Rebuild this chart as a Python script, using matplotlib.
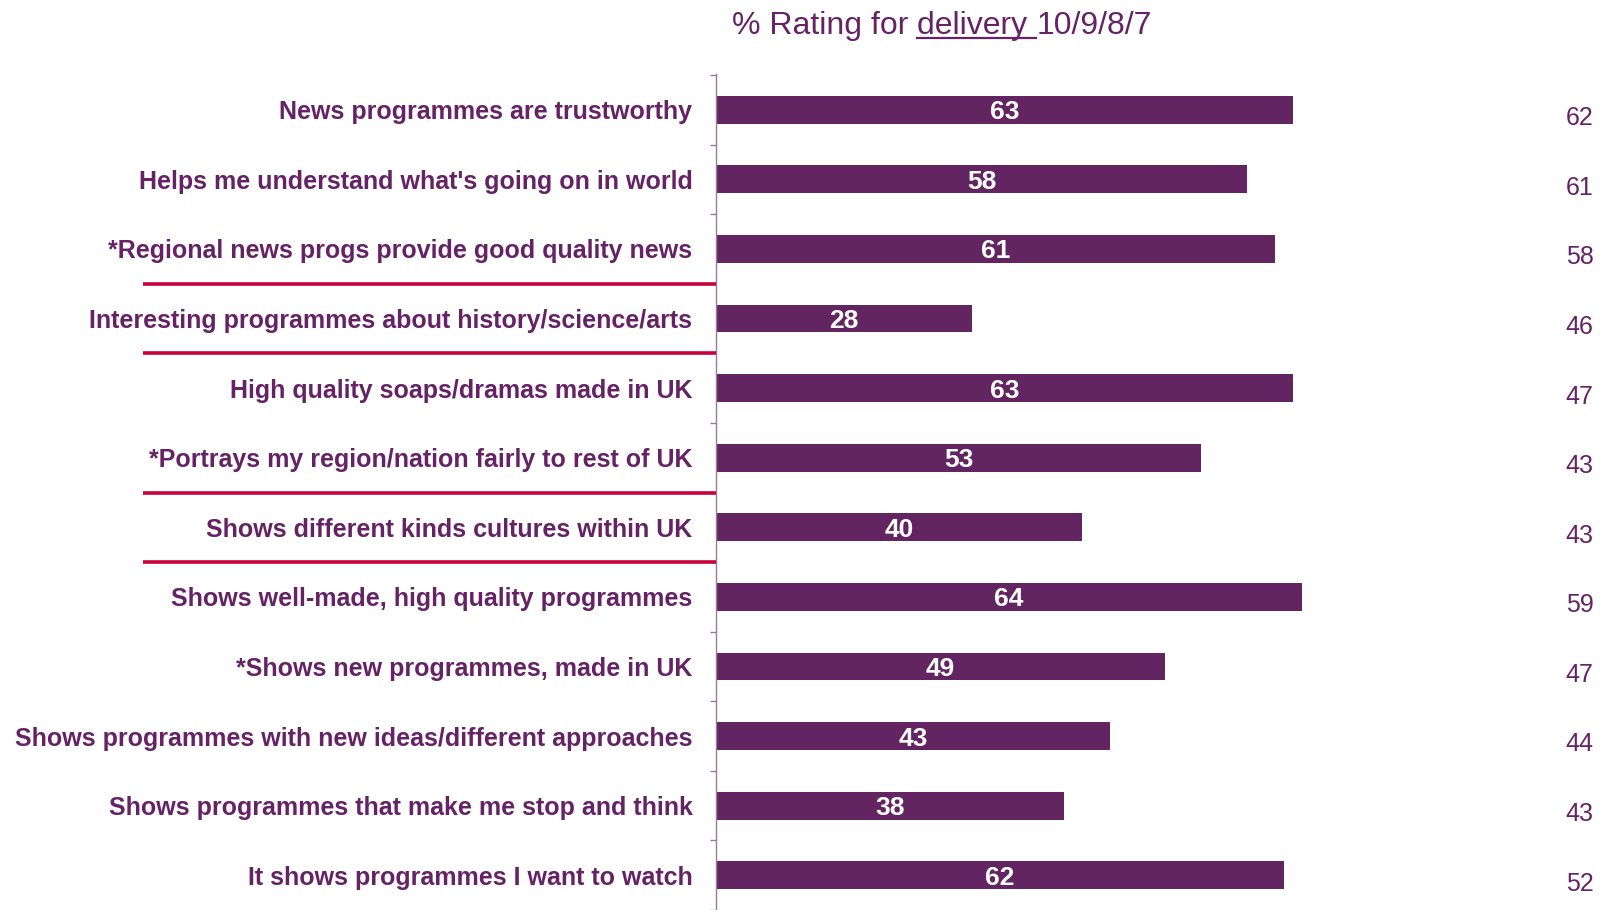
import numpy as np
import matplotlib.pyplot as plt
from matplotlib.lines import Line2D

# Delivery ratings (bars) and comparison figures shown on the right
statements = [
    "News programmes are trustworthy",
    "Helps me understand what's going on in world",
    "*Regional news progs provide good quality news",
    "Interesting programmes about history/science/arts",
    "High quality soaps/dramas made in UK",
    "*Portrays my region/nation fairly to rest of UK",
    "Shows different kinds cultures within UK",
    "Shows well-made, high quality programmes",
    "*Shows new programmes, made in UK",
    "Shows programmes with new ideas/different approaches",
    "Shows programmes that make me stop and think",
    "It shows programmes I want to watch",
]
delivery = [63, 58, 61, 28, 63, 53, 40, 64, 49, 43, 38, 62]
comparison = [62, 61, 58, 46, 47, 43, 43, 59, 47, 44, 43, 52]
# group dividers sit between these rows
dividers = [2.5, 3.5, 5.5, 6.5]

PURPLE = "#632462"
TEXT = "#652366"
RED = "#c8003c"
FONTS = ["Liberation Sans", "DejaVu Sans"]

W, H = 1608, 910
fig = plt.figure(figsize=(W / 100, H / 100), dpi=100)

x0_px, top_px = 716, 74
px_per_unit = 9.16
row0_px, row_step = 110, 69.9

ax = fig.add_axes([x0_px / W, 0, (W - x0_px) / W, (H - top_px) / H])
ax.set_xlim(0, (W - x0_px) / px_per_unit)
ax.set_ylim((H - row0_px) / row_step, (top_px - row0_px) / row_step)

y = np.arange(len(statements))
ax.barh(y, delivery, height=0.4, color=PURPLE, zorder=2)

for yi, v in zip(y, delivery):
    ax.text(v / 2, yi, str(v), ha="center", va="center_baseline", color="white",
            fontsize=19, fontweight="bold", family=FONTS)

for yi, v in zip(y, comparison):
    ax.text(95.8, yi + 0.12, str(v), ha="right", va="center", color=TEXT,
            fontsize=18, family=FONTS)

# red separators across the label column
for d in dividers:
    ax.plot([-62.6, 0], [d, d], color=RED, lw=2.6, clip_on=False,
            solid_capstyle="butt", zorder=3)

for s in ["top", "right", "bottom"]:
    ax.spines[s].set_visible(False)
ax.spines["left"].set_color("#9a7a9a")
ax.spines["left"].set_linewidth(1.0)
ax.set_xticks([])

ax.set_yticks(y)
ax.set_yticklabels(statements, fontsize=18, fontweight="bold",
                   color=TEXT, family=FONTS)
ax.tick_params(axis="y", which="major", length=0, pad=17)
ax.set_yticks(np.arange(-0.5, len(statements), 1.0), minor=True)
ax.tick_params(axis="y", which="minor", length=4, width=1.0, color="#9a7a9a")

# title with the word "delivery" underlined
ty = 1 - 34 / H
t1 = fig.text(732 / W, ty, "% Rating for ", fontsize=23, color=TEXT,
              family=FONTS, va="baseline", ha="left")
t2 = ax.annotate("delivery ", xy=(1, 0), xycoords=t1, fontsize=23, color=TEXT,
                 family=FONTS, va="bottom", ha="left", annotation_clip=False)
t3 = ax.annotate("10/9/8/7", xy=(1, 0), xycoords=t2, fontsize=23, color=TEXT,
                 family=FONTS, va="bottom", ha="left", annotation_clip=False)
fig.canvas.draw()
r = fig.canvas.get_renderer()
bb = t2.get_window_extent(r)
uy = (ty * H - 3.5) / H
fig.add_artist(Line2D([bb.x0 / W, bb.x1 / W], [uy, uy], color=TEXT, lw=1.6,
                      transform=fig.transFigure))

fig.savefig("out.png", dpi=100)
